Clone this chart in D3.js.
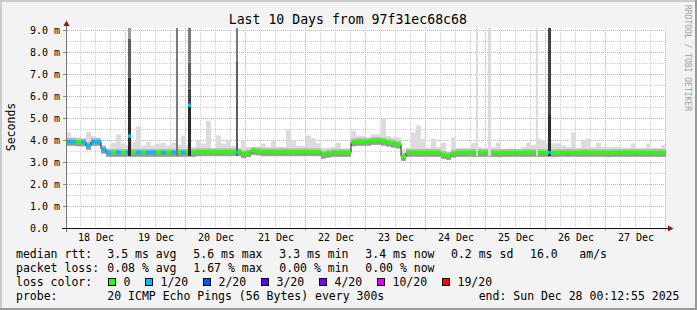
<!DOCTYPE html>
<html>
<head>
<meta charset="utf-8">
<script src="https://cdn.jsdelivr.net/npm/d3@7"></script>
<style>
	body { margin: 0; background: #f3f3f3; }
	svg text { font-family: "DejaVu Sans Mono", monospace; fill: #000; }
</style>
</head>
<body>
<script>
// ---- data -------------------------------------------------------------
var startTime = new Date(2025, 11, 18, 0, 12, 55);
var endTime = new Date(2025, 11, 28, 0, 12, 55);
var stepHours = 2; // one value per 2 hours

var median = [
	3.95, 3.95, 3.93, 3.93, 3.77, 3.95, 3.95, 3.60, 3.46, 3.46,
	3.46, 3.46, 3.46, 3.46, 3.46, 3.46, 3.46, 3.46, 3.46, 3.46,
	3.46, 3.46, 3.46, 3.46, 3.46, 3.46, 3.49, 3.49, 3.49, 3.49,
	3.49, 3.49, 3.49, 3.49, 3.49, 3.40, 3.44, 3.55, 3.52, 3.49,
	3.49, 3.49, 3.49, 3.49, 3.49, 3.49, 3.49, 3.49, 3.49, 3.49,
	3.49, 3.38, 3.42, 3.45, 3.45, 3.45, 3.45, 3.93, 3.95, 3.95,
	3.95, 4.00, 4.00, 3.97, 3.92, 3.87, 3.83, 3.27, 3.45, 3.45,
	3.45, 3.45, 3.45, 3.45, 3.45, 3.36, 3.32, 3.42, 3.45, 3.45,
	3.45, 3.45, 3.46, 3.45, 3.45, 3.45, 3.44, 3.45, 3.45, 3.45,
	3.45, 3.45, 3.46, 3.45, 3.45, 3.45, 3.45, 3.44, 3.45, 3.45,
	3.45, 3.45, 3.45, 3.46, 3.45, 3.45, 3.45, 3.45, 3.44, 3.45,
	3.45, 3.45, 3.45, 3.45, 3.46, 3.45, 3.45, 3.45, 3.45, 3.45
];

var smokeHi = [
	4.38, 4.15, 4.15, 4.10, 4.40, 4.20, 4.05, 3.80, 3.67, 3.90,
	4.27, 3.86, 3.80, 3.93, 4.64, 3.77, 3.93, 3.77, 3.86, 3.90,
	3.77, 3.90, 3.80, 4.23, 3.80, 3.70, 4.00, 3.86, 4.90, 3.64,
	4.23, 3.86, 4.05, 3.77, 3.64, 4.00, 3.70, 3.70, 3.72, 3.86,
	3.72, 4.00, 3.72, 3.72, 4.50, 4.00, 3.77, 3.77, 4.23, 4.10,
	3.86, 3.67, 3.67, 3.70, 3.90, 3.64, 3.64, 4.45, 4.23, 4.20,
	4.15, 4.27, 4.27, 5.00, 4.20, 4.15, 4.15, 3.60, 3.67, 4.38,
	4.68, 4.08, 3.67, 4.08, 3.70, 3.90, 3.50, 4.15, 3.67, 3.67,
	3.67, 3.90, 3.70, 3.67, 3.67, 3.70, 3.90, 3.60, 3.64, 3.64,
	3.60, 3.70, 3.90, 3.80, 4.08, 4.00, 3.90, 3.86, 3.86, 3.77,
	3.70, 4.38, 3.67, 4.05, 4.10, 3.70, 3.90, 3.70, 3.70, 3.70,
	3.72, 3.67, 3.67, 3.86, 3.67, 3.67, 3.86, 3.67, 3.67, 3.80
];

var smokeLo = [
	3.82, 3.80, 3.80, 3.75, 3.62, 3.80, 3.80, 3.42, 3.30, 3.30,
	3.30, 3.30, 3.30, 3.30, 3.30, 3.30, 3.30, 3.30, 3.30, 3.30,
	3.30, 3.30, 3.30, 3.30, 3.30, 3.30, 3.30, 3.30, 3.30, 3.30,
	3.30, 3.30, 3.30, 3.30, 3.30, 3.25, 3.30, 3.32, 3.32, 3.30,
	3.30, 3.30, 3.30, 3.30, 3.30, 3.30, 3.30, 3.30, 3.30, 3.30,
	3.30, 3.25, 3.28, 3.30, 3.30, 3.30, 3.30, 3.80, 3.82, 3.82,
	3.82, 3.85, 3.85, 3.82, 3.75, 3.72, 3.70, 3.18, 3.30, 3.30,
	3.30, 3.30, 3.30, 3.30, 3.30, 3.22, 3.20, 3.28, 3.30, 3.30,
	3.30, 3.30, 3.30, 3.30, 3.30, 3.30, 3.30, 3.30, 3.30, 3.30,
	3.30, 3.30, 3.30, 3.30, 3.30, 3.30, 3.30, 3.30, 3.30, 3.30,
	3.30, 3.30, 3.30, 3.30, 3.30, 3.30, 3.30, 3.30, 3.30, 3.30,
	3.30, 3.30, 3.30, 3.30, 3.30, 3.30, 3.30, 3.30, 3.30, 3.30
];

// index into the loss legend (0 = no loss, 1 = 1/20 ...)
var lossIdx = [
	1, 1, 0, 1, 1, 1, 1, 1, 1, 0,
	1, 0, 1, 0, 1, 0, 1, 1, 0, 1,
	0, 1, 0, 1, 0, 0, 0, 0, 0, 0,
	0, 0, 0, 0, 0, 0, 0, 0, 0, 0,
	0, 0, 0, 0, 0, 0, 0, 0, 0, 0,
	0, 0, 0, 0, 0, 0, 0, 0, 0, 0,
	0, 0, 0, 0, 0, 0, 0, 0, 0, 0,
	0, 0, 0, 0, 0, 0, 0, 0, 0, 0,
	0, 0, 0, 0, 0, 0, 0, 0, 0, 0,
	0, 0, 0, 0, 0, 0, 0, 0, 0, 0,
	0, 0, 0, 0, 0, 0, 0, 0, 0, 0,
	0, 0, 0, 0, 0, 0, 0, 0, 0, 0
];

// short bursts of slow pings (hours after start)
var spikeFrom = [24.8, 44.0, 48.8, 68.0, 164.0, 168.8, 188.0, 192.8];
var spikeTo = [26.0, 44.8, 50.0, 68.8, 164.8, 170.0, 188.8, 194.0];
var spikeMedian = [4.2, null, 5.6, 3.46, null, null, null, 3.45];
var spikeLoss = [1, 0, 1, 1, 0, 0, 0, 1];
// [low, high, density level]
var spikeBands = [
	[[3.30, 6.86, 5], [6.86, 8.64, 3], [8.64, 9.20, 1]],
	[[3.30, 9.20, 2]],
	[[3.30, 5.60, 5], [5.60, 6.36, 4], [6.36, 7.55, 3], [7.55, 9.20, 2]],
	[[3.30, 7.64, 3], [7.64, 9.20, 2]],
	[[3.30, 9.20, 0]],
	[[3.30, 9.20, 0]],
	[[3.30, 9.20, 0]],
	[[3.30, 5.20, 5], [5.20, 9.20, 4]]
];

var dayLabels = ['18 Dec', '19 Dec', '20 Dec', '21 Dec', '22 Dec', '23 Dec', '24 Dec', '25 Dec', '26 Dec', '27 Dec'];
var yTicks = [0, 1, 2, 3, 4, 5, 6, 7, 8, 9];
var yTickLabels = ['0.0', '1.0 m', '2.0 m', '3.0 m', '4.0 m', '5.0 m', '6.0 m', '7.0 m', '8.0 m', '9.0 m'];

var title = 'Last 10 Days from 97f31ec68c68';
var rttStats = ['median rtt:', '3.5 ms avg', '5.6 ms max', '3.3 ms min', '3.4 ms now', '0.2 ms sd', '16.0', 'am/s'];
var lossStats = ['packet loss:', '0.08 % avg', '1.67 % max', '0.00 % min', '0.00 % now'];
var lossLabels = ['0', '1/20', '2/20', '3/20', '4/20', '10/20', '19/20'];
var probeText = '20 ICMP Echo Pings (56 Bytes) every 300s';
var endText = 'end: Sun Dec 28 00:12:55 2025';

// ---- styles -----------------------------------------------------------
var lossColors = ['#26ff00', '#00b8ff', '#0059ff', '#5e00ff', '#7e00ff', '#dd00ff', '#ff0000'];
var smokeGreys = ['#dcdcdc', '#9a9a9a', '#7a7a7a', '#5e5e5e', '#444444', '#2c2c2c'];
var rttX = [16, 107.3, 193.3, 279.3, 365.3, 451, 530, 579.3];
var boxX = [108.5, 145.5, 203.5, 261.5, 319.5, 377.5, 442.5];

var W = 697, H = 310;

function at (h) { return new Date(startTime.getTime() + h * 3600000); }

var svg = d3.select("body").append("svg")
	.attr("width", W)
	.attr("height", H);

var x = d3.scaleTime().domain([startTime, endTime]).range([66, 666]);
var y = d3.scaleLinear().domain([0, 200 / 22]).range([228.5, 28.5]);

// background + 3d frame
svg.append("rect").attr("width", W).attr("height", H).attr("fill", "#f3f3f3");
svg.append("path").attr("d", "M0,0H697V2H2V310H0Z").attr("fill", "#cbcbcb");
svg.append("path").attr("d", "M697,0V310H0V308H695V0Z").attr("fill", "#999999");

svg.append("rect").attr("x", 67).attr("y", 28).attr("width", 599).attr("height", 200).attr("fill", "#fff");

svg.append("clipPath").attr("id", "plotclip")
	.append("rect").attr("x", 67).attr("y", 28).attr("width", 599).attr("height", 200);

// grid
var grid = svg.append("g");
var minorX = d3.timeHour.every(6).range(startTime, endTime).filter(function (d) { return d.getHours() !== 0; });
var majorX = d3.timeDay.range(startTime, endTime);
var px = function (d) { return Math.floor(x(d)) + 0.5; };

grid.selectAll(".vmin").data(minorX).enter().append("line")
	.attr("x1", px).attr("x2", px).attr("y1", 28).attr("y2", 228)
	.attr("stroke", "#cfcfcf").attr("stroke-dasharray", "1,1");
grid.selectAll(".hmin").data([0.5, 1.5, 2.5, 3.5, 4.5, 5.5, 6.5, 7.5, 8.5]).enter().append("line")
	.attr("x1", 67).attr("x2", 666).attr("y1", function (d) { return y(d); }).attr("y2", function (d) { return y(d); })
	.attr("stroke", "#cfcfcf").attr("stroke-dasharray", "1,1");
grid.selectAll(".vmaj").data(majorX).enter().append("line")
	.attr("x1", px).attr("x2", px).attr("y1", 28).attr("y2", 228)
	.attr("stroke", "#e8a0a0").attr("stroke-dasharray", "1,1");
grid.selectAll(".hmaj").data(yTicks.slice(1)).enter().append("line")
	.attr("x1", 67).attr("x2", 666).attr("y1", function (d) { return y(d); }).attr("y2", function (d) { return y(d); })
	.attr("stroke", "#e8a0a0").attr("stroke-dasharray", "1,1");
// tick stubs
grid.selectAll(".ytick").data(yTicks.slice(1)).enter().append("line")
	.attr("x1", 63).attr("x2", 66).attr("y1", function (d) { return y(d); }).attr("y2", function (d) { return y(d); })
	.attr("stroke", "#888");
grid.selectAll(".xtick").data(majorX).enter().append("line")
	.attr("x1", px).attr("x2", px).attr("y1", 229).attr("y2", 231)
	.attr("stroke", "#e8a0a0");

// smoke + median
var rows = median.map(function (m, i) {
	return { t: at(i * stepHours), m: m, hi: smokeHi[i], lo: smokeLo[i], loss: lossIdx[i] };
});
var last = rows[rows.length - 1];
var rowsEnd = rows.concat([{ t: endTime, m: last.m, hi: last.hi, lo: last.lo, loss: last.loss }]);

var data = svg.append("g").attr("clip-path", "url(#plotclip)");

data.append("path").datum(rowsEnd)
	.attr("fill", smokeGreys[0])
	.attr("d", d3.area().curve(d3.curveStepAfter)
		.x(function (d) { return x(d.t); })
		.y0(function (d) { return y(d.lo); })
		.y1(function (d) { return y(d.hi); }));

data.append("path").datum(rowsEnd)
	.attr("fill", "#b8b8b8")
	.attr("d", d3.area().curve(d3.curveStepAfter)
		.x(function (d) { return x(d.t); })
		.y0(function (d) { return y(d.m) + 4.5; })
		.y1(function (d) { return y(d.m) - 3.5; }));

data.append("path").datum(rowsEnd)
	.attr("fill", "#999")
	.attr("d", d3.area().curve(d3.curveStepAfter)
		.x(function (d) { return x(d.t); })
		.y0(function (d) { return y(d.m) + 4; })
		.y1(function (d) { return y(d.m) + 1; }));

data.append("path").datum(rowsEnd)
	.attr("fill", "none").attr("stroke", "#202020").attr("stroke-width", 1)
	.attr("d", d3.line().curve(d3.curveStepAfter)
		.x(function (d) { return x(d.t); })
		.y(function (d) { return y(d.m); }));

data.selectAll(".loss").data(rows).enter().append("rect")
	.attr("x", function (d) { return x(d.t); })
	.attr("width", x(at(stepHours)) - x(startTime))
	.attr("y", function (d) { return y(d.m) - 1.75; })
	.attr("height", 3.5)
	.attr("fill", function (d) { return lossColors[d.loss]; });

// spikes
spikeFrom.forEach(function (h, i) {
	var x0 = x(at(h)), x1 = x(at(spikeTo[i]));
	spikeBands[i].forEach(function (b) {
		data.append("rect")
			.attr("x", x0).attr("width", x1 - x0)
			.attr("y", y(b[1])).attr("height", y(b[0]) - y(b[1]))
			.attr("fill", smokeGreys[b[2]]);
	});
	if (spikeMedian[i] !== null) {
		data.append("rect")
			.attr("x", x0).attr("width", x1 - x0)
			.attr("y", y(spikeMedian[i]) - 1.75).attr("height", 3.5)
			.attr("fill", lossColors[spikeLoss[i]]);
	}
});

// axes lines + arrows
svg.append("line").attr("x1", 66.5).attr("x2", 66.5).attr("y1", 232).attr("y2", 25).attr("stroke", "#777");
svg.append("line").attr("x1", 62).attr("x2", 669).attr("y1", 228.5).attr("y2", 228.5).attr("stroke", "#111");
svg.append("path").attr("d", "M63.5,26L69.5,26L66.5,20.5Z").attr("fill", "#8b1a1a");
svg.append("path").attr("d", "M668,225.5L668,231.5L673.5,228.5Z").attr("fill", "#8b1a1a");

// axis labels
var noons = dayLabels.map(function (d, i) { return d3.timeHour.offset(d3.timeDay.offset(d3.timeDay.floor(startTime), i), 12); });
var xg = svg.append("g").attr("transform", "translate(0,228)")
	.call(d3.axisBottom(x).tickValues(noons).tickFormat(function (d, i) { return dayLabels[i]; }).tickSize(0).tickPadding(5.5));
xg.select(".domain").remove();
xg.attr("font-family", "DejaVu Sans Mono").attr("font-size", 10);

var yg = svg.append("g").attr("transform", "translate(66,0)")
	.call(d3.axisLeft(y).tickValues(yTicks).tickFormat(function (d, i) { return yTickLabels[i]; }).tickSize(0));
yg.select(".domain").remove();
yg.attr("font-family", "DejaVu Sans Mono").attr("font-size", 10);
yg.selectAll("text").attr("x", 30 - 66).attr("text-anchor", "start");

// titles
svg.append("text").attr("x", 347.8).attr("y", 24).attr("text-anchor", "middle")
	.style("font-size", "13.2px").text(title);
svg.append("text").attr("transform", "translate(15,127) rotate(-90)").attr("text-anchor", "middle")
	.style("font-size", "11.5px").text("Seconds");
svg.append("text").attr("transform", "translate(685,5) rotate(90)")
	.style("font-size", "8px").style("fill", "#a0a0a0").text("RRDTOOL / TOBI OETIKER");

// legend
var legend = svg.append("g").style("font-size", "11.5px");
rttStats.forEach(function (s, i) {
	legend.append("text").attr("x", rttX[i]).attr("y", 258.3).text(s);
});
lossStats.forEach(function (s, i) {
	legend.append("text").attr("x", rttX[i]).attr("y", 272.2).text(s);
});
legend.append("text").attr("x", 16).attr("y", 286.1).text("loss color:");
lossLabels.forEach(function (s, i) {
	legend.append("rect").attr("x", boxX[i]).attr("y", 278.5).attr("width", 7).attr("height", 7)
		.attr("fill", lossColors[i]).attr("stroke", "#000");
	legend.append("text").attr("x", boxX[i] + 15).attr("y", 286.1).text(s);
});
legend.append("text").attr("x", 16).attr("y", 300).text("probe:");
legend.append("text").attr("x", 107.3).attr("y", 300).text(probeText);
legend.append("text").attr("x", 478.7).attr("y", 300).text(endText);
</script>
</body>
</html>
